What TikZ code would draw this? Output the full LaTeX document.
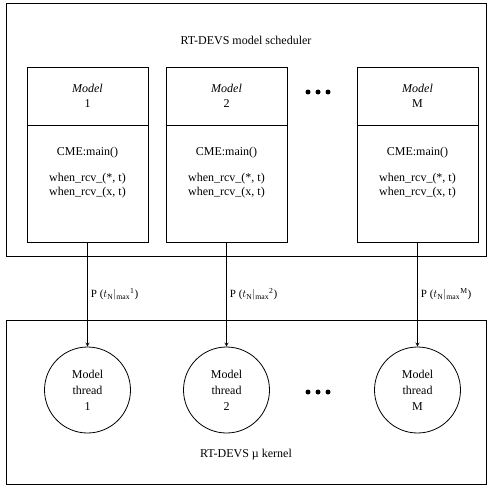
\documentclass[tikz,border=0pt]{standalone}
\usepackage{fontspec}
\setmainfont{Liberation Serif}
\usetikzlibrary{positioning}

\begin{document}
\begin{tikzpicture}[x=1pt, y=-1pt, >=stealth, line width=0.8pt,
    font=\fontsize{12}{14}\selectfont,
    outerbox/.style={draw, minimum width=480pt, inner sep=0pt},
    modelhead/.style={draw, minimum width=121pt, minimum height=58pt, align=center, inner sep=0pt},
    modelbody/.style={draw, minimum width=121pt, minimum height=117pt, inner sep=0pt},
    codetext/.style={align=center, inner sep=0pt, font=\fontsize{12}{14}\selectfont},
    thread/.style={draw, circle, minimum size=86pt, align=center, inner sep=0pt,
        font=\fontsize{12}{16}\selectfont},
    rate/.style={right, font=\fontsize{11}{13}\selectfont, inner sep=3pt},
    dot/.style={fill, circle, inner sep=0pt, minimum size=5pt}]
    \useasboundingbox (0,0) rectangle (489,487);

    % scheduler and kernel frames
    \node[outerbox, minimum height=253pt] (sched) at (246,129.5) {};
    \node[outerbox, minimum height=164pt] (kernel) at (246,402) {};
    \node (schedtitle) at (246,40) {RT-DEVS model scheduler};
    \node (kerneltitle) at (246,455) {RT-DEVS µ kernel};

    \foreach \i/\x/\lab in {1/87.5/1, 2/226.5/2, 3/417.5/M} {
        \node[modelhead] (head\i) at (\x,96) {\textit{Model}\\[1pt]\lab};
        \node[modelbody] (body\i) at (\x,183.5) {};
        \node[codetext, anchor=north] (code\i) at ([yshift=-22pt]body\i.north)
            {CME:main()\\[12pt]when\_rcv\_(*, t)\\when\_rcv\_(x, t)};
        \node[thread] (thread\i) at (\x,390) {Model\\thread\\\lab};
        \draw[->] (body\i.south) -- (thread\i.north)
            node[rate, pos=0.5] {P (\(t_{\mathrm{N}}|_{\max}{}^{\mathrm{\lab}}\))};
    }

    % ellipses between models and threads
    \foreach \dx in {308,318,328} {
        \node[dot] (sdot\dx) at (\dx,92) {};
        \node[dot] (kdot\dx) at (\dx,392) {};
    }
\end{tikzpicture}
\end{document}
